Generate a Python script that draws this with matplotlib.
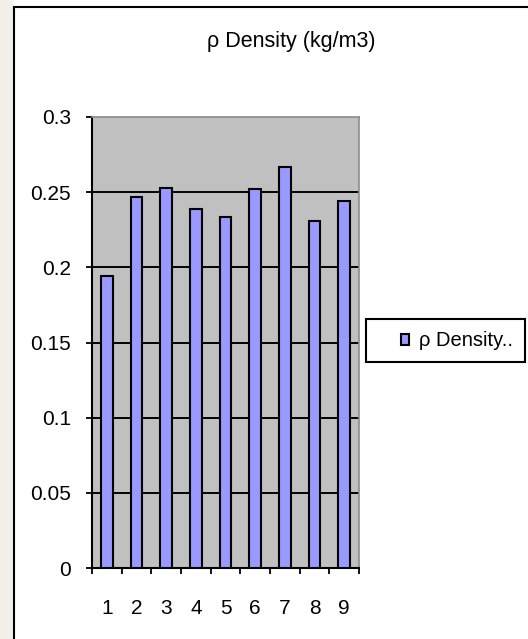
import matplotlib
matplotlib.use('Agg')
import matplotlib.pyplot as plt
from matplotlib.patches import Rectangle
from matplotlib.lines import Line2D

# values
digits = [1, 2, 3, 4, 5, 6, 7, 8, 9]
density = [0.194, 0.247, 0.253, 0.239, 0.2335, 0.252, 0.267, 0.231, 0.244]
y_ticks = [0, 0.05, 0.1, 0.15, 0.2, 0.25, 0.3]
y_labels = ['0', '0.05', '0.1', '0.15', '0.2', '0.25', '0.3']
title = 'ρ Density (kg/m3)'
series_label = 'ρ Density..'

plt.rcParams['font.family'] = ['Liberation Sans', 'DejaVu Sans']
FS = 15

W, H = 528, 639
def fx(px):
    return px / W
def fy(py):
    return 1 - py / H

fig = plt.figure(figsize=(W / 100, H / 100), dpi=100)
fig.patch.set_facecolor('white')

# faint background strip left of the chart border
fig.add_artist(Rectangle((0, 0), fx(13), 1, transform=fig.transFigure,
                         facecolor='#f3f0ec', edgecolor='none', zorder=0))
# chart border (only top and left are visible in the crop)
fig.add_artist(Line2D([fx(14), fx(14)], [0, fy(6.5)], transform=fig.transFigure,
                      color='black', lw=1.5, solid_capstyle='projecting'))
fig.add_artist(Line2D([fx(14), 1], [fy(6.5), fy(6.5)], transform=fig.transFigure,
                      color='black', lw=1.5, solid_capstyle='projecting'))

ax = fig.add_axes([fx(92), fy(568), fx(359) - fx(92), (568 - 117) / H])
ax.set_facecolor('#c0c0c0')

bars = ax.bar(digits, density, width=0.4, color='#9999ff', edgecolor='black',
              linewidth=1.5, zorder=3, label=series_label)

ax.set_xlim(0.5, 9.5)
ax.set_ylim(0, 0.3)
ax.set_yticks(y_ticks)
ax.set_yticklabels(y_labels)
ax.set_xticks(digits)
ax.set_xticks([d + 0.5 for d in [0] + digits], minor=True)
ax.tick_params(axis='x', which='major', length=0, pad=22, labelsize=FS)
ax.tick_params(axis='x', which='minor', length=4.5, width=1.3, direction='out')
ax.tick_params(axis='y', length=4, width=1.3, pad=11, labelsize=FS)

ax.yaxis.grid(True, color='black', linewidth=1.4, zorder=1)
ax.set_axisbelow(True)
ax.get_ygridlines()[-1].set_visible(False)

for side in ['left', 'bottom']:
    ax.spines[side].set_linewidth(1.5)
    ax.spines[side].set_color('black')
for side in ['top', 'right']:
    ax.spines[side].set_linewidth(1.2)
    ax.spines[side].set_color('#8c8c8c')

fig.text(fx(291.5), fy(47), title, ha='center', va='baseline', fontsize=FS + 0.5)

# legend
fig.add_artist(Rectangle((fx(366), fy(362)), fx(525) - fx(366), (362 - 319) / H,
                         transform=fig.transFigure, fill=False,
                         edgecolor='black', linewidth=1.5))
ax.legend(loc='center left', bbox_to_anchor=(fx(401), fy(341)),
          bbox_transform=fig.transFigure, frameon=False, fontsize=FS - 0.5,
          handlelength=0.42, handleheight=0.42, handletextpad=0.45,
          borderpad=0, borderaxespad=0)

plt.savefig('out.png', dpi=100)
